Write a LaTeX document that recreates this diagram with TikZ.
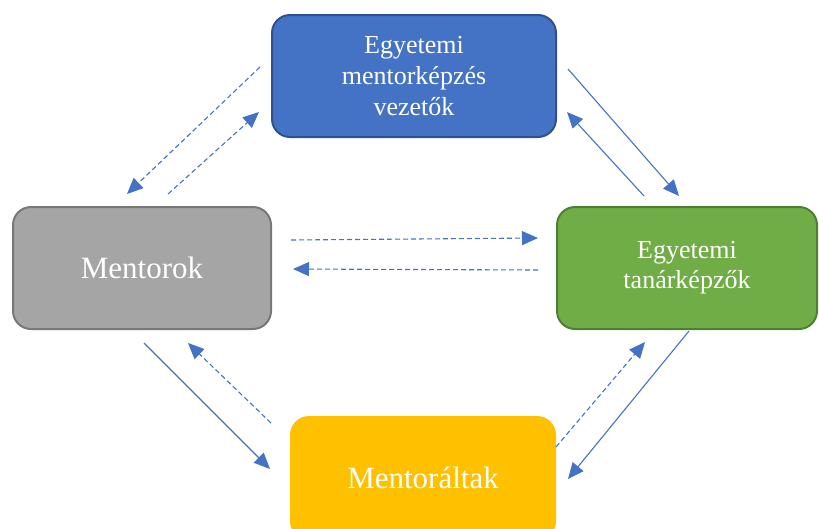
\documentclass[tikz,border=0pt]{standalone}
\usepackage{fontspec}
\setmainfont{Liberation Serif}
\usetikzlibrary{arrows.meta}

\definecolor{vezfill}{HTML}{4472C4}
\definecolor{vezline}{HTML}{2F528F}
\definecolor{mentfill}{HTML}{A5A5A5}
\definecolor{mentline}{HTML}{787878}
\definecolor{tanfill}{HTML}{70AD47}
\definecolor{tanline}{HTML}{507E32}
\definecolor{altfill}{HTML}{FFC000}
\definecolor{arrowblue}{HTML}{4472C4}

\begin{document}
\begin{tikzpicture}[x=1pt,y=-1pt,
    box/.style={rectangle,rounded corners=18pt,line width=2pt,text=white,
        align=center,minimum height=122pt,inner sep=0pt},
    arr/.style={draw=arrowblue,line width=1.1pt,-{Triangle[length=16pt,width=14pt]}},
    dsh/.style={arr,dash pattern=on 5pt off 3pt}]
    \useasboundingbox (0,0) rectangle (819,528);

    % the four groups
    \node[box,fill=vezfill,draw=vezline,minimum width=284pt,
        font=\fontsize{26}{31}\selectfont] (vez) at (414,76)
        {Egyetemi\\mentorképzés\\vezetők};
    \node[box,fill=mentfill,draw=mentline,minimum width=258pt,
        font=\fontsize{31}{36}\selectfont] (mentorok) at (142,268) {Mentorok};
    \node[box,fill=tanfill,draw=tanline,minimum width=260pt,
        font=\fontsize{26}{30}\selectfont] (tanar) at (687,268)
        {Egyetemi\\tanárképzők};
    \node[box,fill=altfill,draw=altfill,minimum width=264pt,
        font=\fontsize{31}{36}\selectfont] (mentoralt) at (423,478) {Mentoráltak};

    % arrow ends
    \coordinate (a1) at (260,67);  \coordinate (a2) at (127,194);
    \coordinate (b1) at (168,194); \coordinate (b2) at (259,112);
    \coordinate (c1) at (568,69);  \coordinate (c2) at (679,196);
    \coordinate (d1) at (644,196); \coordinate (d2) at (567,112);
    \coordinate (e1) at (291,240); \coordinate (e2) at (538,238);
    \coordinate (f1) at (538,270); \coordinate (f2) at (293,269);
    \coordinate (g1) at (144,343); \coordinate (g2) at (270,469);
    \coordinate (h1) at (271,423); \coordinate (h2) at (188,343);
    \coordinate (i1) at (556,447); \coordinate (i2) at (645,342);
    \coordinate (j1) at (689,331); \coordinate (j2) at (568,479);

    \path
        (a1) edge[dsh] (a2)
        (b1) edge[dsh] (b2)
        (c1) edge[arr] (c2)
        (d1) edge[arr] (d2)
        (e1) edge[dsh] (e2)
        (f1) edge[dsh] (f2)
        (g1) edge[arr] (g2)
        (h1) edge[dsh] (h2)
        (i1) edge[dsh] (i2)
        (j1) edge[arr] (j2);
\end{tikzpicture}
\end{document}
